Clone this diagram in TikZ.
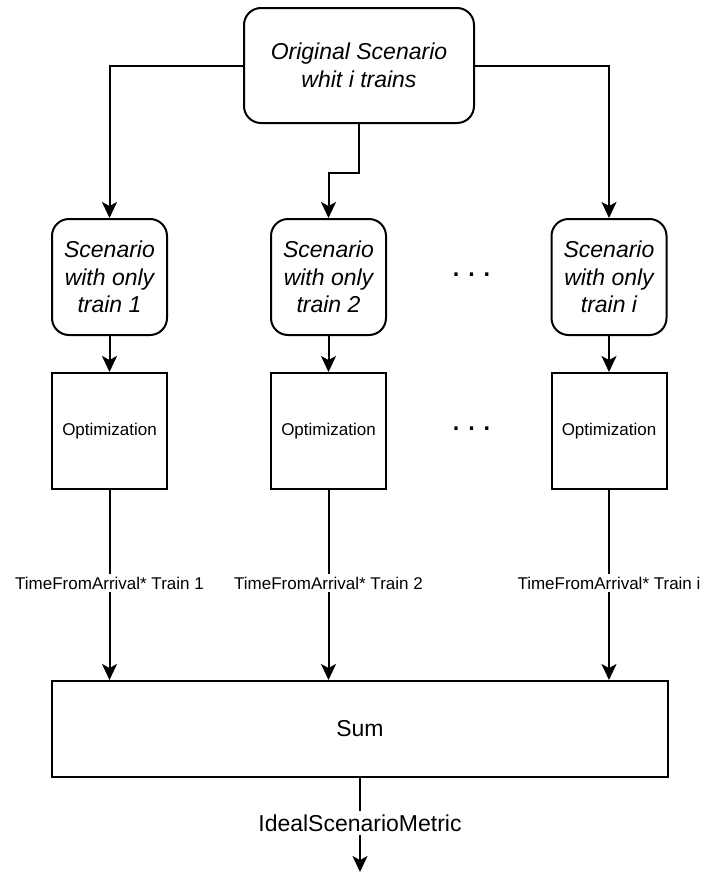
\documentclass[tikz,border=0pt]{standalone}
\usepackage{fontspec}
\setmainfont{Liberation Sans}
\usetikzlibrary{arrows.meta}

\tikzset{
  scenbox/.style={draw, line width=2pt, rounded corners=17pt, minimum width=115pt, minimum height=116pt, align=center, font=\fontsize{23}{27.5}\selectfont\itshape},
  optbox/.style={draw, line width=2pt, minimum width=115pt, minimum height=116pt, font=\fontsize{17}{20}\selectfont},
  flowlabel/.style={inner sep=3pt, font=\fontsize{17}{20}\selectfont},
  dotsnode/.style={inner sep=0pt, font=\fontsize{34}{34}\selectfont},
  link/.style={line width=2pt, -{Stealth[length=16pt,width=15pt,inset=4pt]}}
}

\begin{document}
\begin{tikzpicture}[x=1pt,y=-1pt]
    \useasboundingbox (0,0) rectangle (705,873);
    % Draw the original scenario
    \node[scenbox, minimum width=230pt, minimum height=115pt] (orig) at (359,65.5) {Original Scenario\\whit i trains};
    % Draw the branches, one per train
    \foreach \n/\x/\t in {1/109.5/1, 2/328.5/2, 3/609/i} {
        \node[scenbox] (scen\n) at (\x,277) {Scenario\\with only\\train \t};
        \node[optbox] (opt\n) at (\x,431) {Optimization};
        \node[flowlabel] (time\n) at (\x,583) {TimeFromArrival* Train \t};
    }
    % Dots between train 2 and train i
    \node[dotsnode] (dotsA) at (471.5,275) {.\hspace{6pt}.\hspace{6pt}.};
    \node[dotsnode] (dotsB) at (471.5,429) {.\hspace{6pt}.\hspace{6pt}.};
    % Draw the sum and the output
    \node[draw, line width=2pt, minimum width=616pt, minimum height=96pt, font=\fontsize{23}{27}\selectfont] (sum) at (360,729) {Sum};
    \node[flowlabel, font=\fontsize{23}{27}\selectfont] (metric) at (360,823) {IdealScenarioMetric};
    \coordinate (out) at (360,872);
    % Connectors
    \draw[link] (orig.west) -| (scen1.north);
    \draw[link] (orig.east) -| (scen3.north);
    \draw[link] (orig.south) -- ++(0,49) -| (scen2.north);
    \foreach \n in {1,2,3} {
        \draw[link] (scen\n) -- (opt\n);
        \draw[line width=2pt] (opt\n) -- (time\n);
        \draw[link] (time\n) -- (time\n |- sum.north);
    }
    \draw[line width=2pt] (sum) -- (metric);
    \draw[link] (metric) -- (out);
\end{tikzpicture}
\end{document}
